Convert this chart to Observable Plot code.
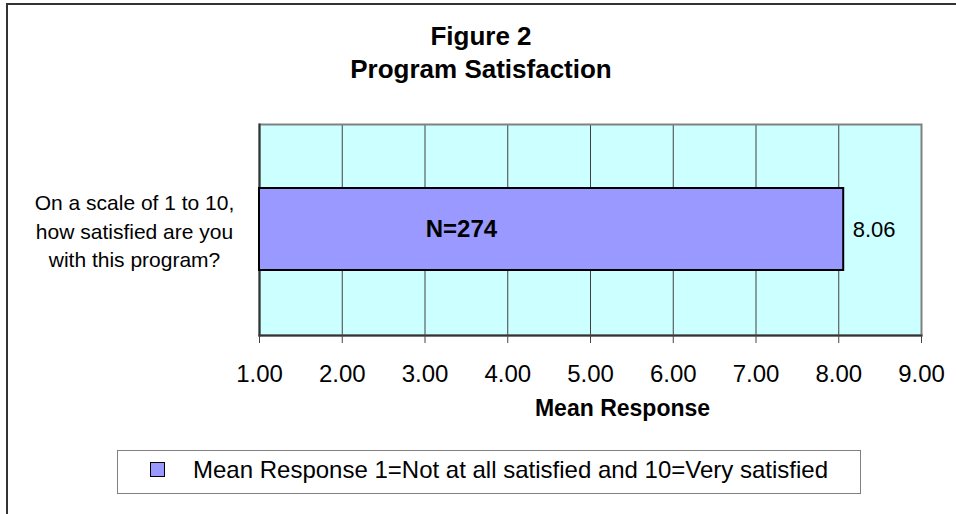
<!DOCTYPE html>
<html>
<head>
<meta charset="utf-8">
<script src="https://cdn.jsdelivr.net/npm/d3@7"></script>
<script src="https://cdn.jsdelivr.net/npm/@observablehq/plot@0.6"></script>
<style>
  html, body { margin: 0; padding: 0; background: #fff; overflow: hidden; }
  body { width: 956px; height: 514px; position: relative; font-family: "Liberation Sans", Arial, sans-serif; }
  #frame { position: absolute; left: 6px; top: 3px; width: 1000px; height: 600px; border: 2px solid #333; box-sizing: border-box; }
  #title { position: absolute; left: 0; width: 962px; top: 20px; text-align: center; font-weight: bold; font-size: 26px; line-height: 33px; color: #000; }
  #chart { position: absolute; left: 0; top: 0; }
  #legend { position: absolute; left: 117px; top: 450px; width: 744px; height: 44px; border: 1.5px solid #808080; box-sizing: border-box; }
  #legend .sw { position: absolute; left: 32px; top: 11px; width: 15px; height: 15px; background: #9999ff; border: 1.5px solid #000; box-sizing: border-box; }
  #legend .lt { position: absolute; left: 75px; top: 5px; font-size: 24px; line-height: 28px; color: #000; white-space: nowrap; }
</style>
</head>
<body>
<div id="frame"></div>
<div id="title"></div>
<div id="chart"></div>
<div id="legend"><div class="sw"></div><div class="lt"></div></div>
<script>
// ---- data ----
const titleLines = ["Figure 2", "Program Satisfaction"];
const categories = ["On a scale of 1 to 10,\nhow satisfied are you\nwith this program?"];
const meanValues = [8.06];
const sampleLabels = ["N=274"];
const axisMin = 1;
const axisMax = 9;
const xTicks = [1, 2, 3, 4, 5, 6, 7, 8, 9];
const xAxisTitle = "Mean Response";
const legendLabel = "Mean Response 1=Not at all satisfied and 10=Very satisfied";
const sampleLabelAt = [3.44];

const rows = categories.map((c, i) => ({cat: c, value: meanValues[i], base: axisMin, n: sampleLabels[i], nx: sampleLabelAt[i]}));

document.getElementById("title").innerHTML = titleLines.join("<br>");
document.querySelector("#legend .lt").textContent = legendLabel;

const font = "'Liberation Sans', Arial, sans-serif";

const chart = Plot.plot({
  width: 956,
  height: 440,
  marginLeft: 259,
  marginRight: 35,
  marginTop: 124,
  marginBottom: 105,
  style: {fontFamily: font, background: "transparent", color: "#000"},
  x: {domain: [axisMin, axisMax], ticks: xTicks, tickFormat: d3.format(".2f")},
  y: {domain: categories, padding: 0.436},
  marks: [
    Plot.frame({fill: "#ccffff", stroke: "none"}),
    Plot.ruleX(xTicks, {stroke: "#404040", strokeWidth: 1}),
    Plot.frame({stroke: "#808080", strokeWidth: 2}),
    Plot.frame({anchor: "left", stroke: "#333", strokeWidth: 2}),
    Plot.frame({anchor: "bottom", stroke: "#333", strokeWidth: 2}),
    Plot.barX(rows, {x1: "base", x2: "value", y: "cat", fill: "#9999ff", stroke: "#000", strokeWidth: 2}),
    Plot.axisX({ticks: xTicks, tickFormat: d3.format(".2f"), tickSize: 8, tickPadding: 21, fontSize: 24, stroke: "#444", label: null}),
    Plot.axisY({ticks: [], label: null}),
    Plot.text(rows, {y: "cat", text: "cat", frameAnchor: "left", dx: -125, textAnchor: "middle", lineHeight: 1.36, fontSize: 21, fill: "#000"}),
    Plot.text(rows, {x: "value", y: "cat", text: d => d.value.toFixed(2), dx: 9, textAnchor: "start", fontSize: 22, fill: "#000"}),
    Plot.text(rows, {x: "nx", y: "cat", text: "n", fontSize: 24, fontWeight: "bold", fill: "#000"}),
    Plot.text([xAxisTitle], {frameAnchor: "bottom", dy: 80, dx: 32, fontSize: 23, fontWeight: "bold", fill: "#000"})
  ]
});
document.getElementById("chart").appendChild(chart);
</script>
</body>
</html>
